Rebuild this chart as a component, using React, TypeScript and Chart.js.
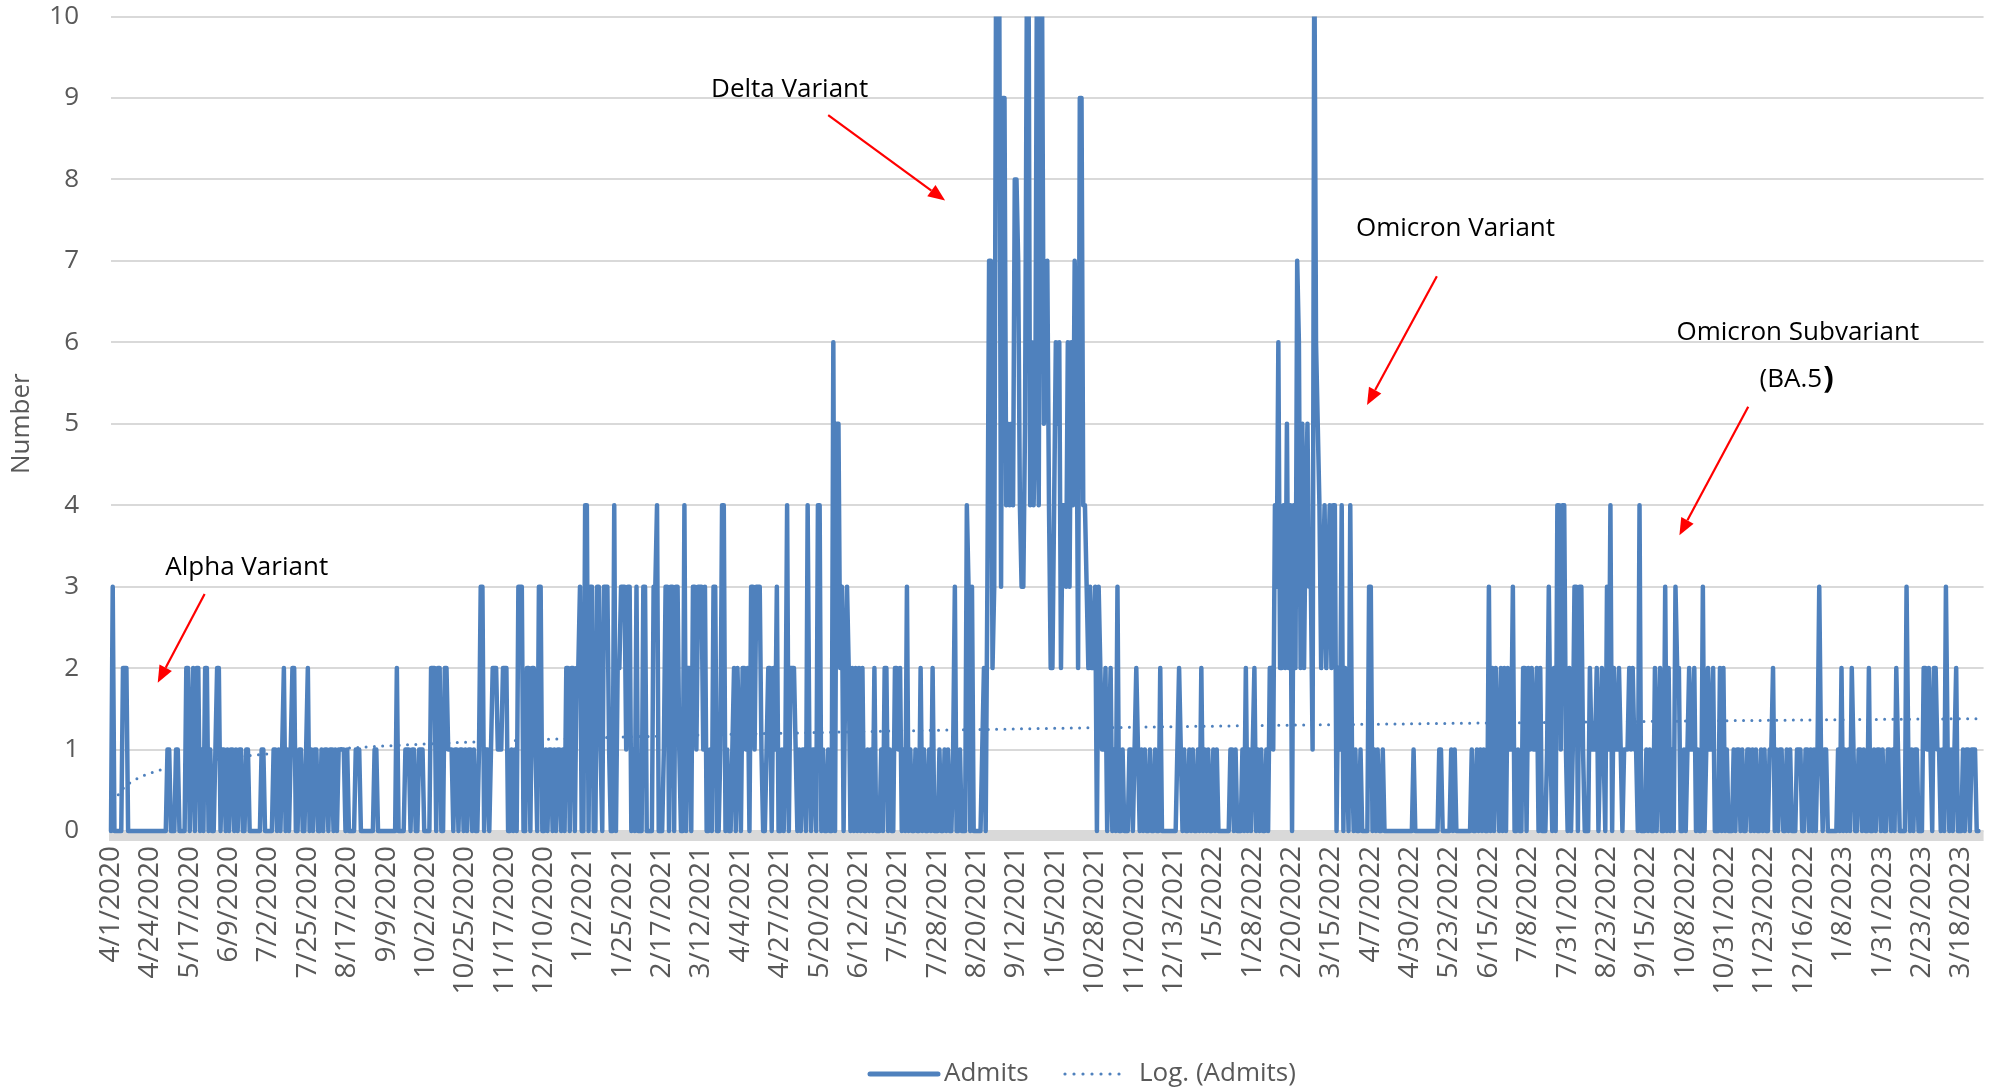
import React, { useEffect, useRef } from "react";
import { Chart, registerables } from "chart.js";

Chart.register(...registerables);

// ---------------- DATA ----------------
const SERIES_NAME = "Admits";
const TREND_NAME = "Log. (Admits)";
const AXIS_DAYS = 1095; // 4/1/2020 .. 3/31/2023 (date axis extent)
const TICK_STEP = 23; // one tick label every 23 days

const TICK_LABELS = [
  "4/1/2020", "4/24/2020", "5/17/2020", "6/9/2020", "7/2/2020", "7/25/2020",
  "8/17/2020", "9/9/2020", "10/2/2020", "10/25/2020", "11/17/2020", "12/10/2020",
  "1/2/2021", "1/25/2021", "2/17/2021", "3/12/2021", "4/4/2021", "4/27/2021",
  "5/20/2021", "6/12/2021", "7/5/2021", "7/28/2021", "8/20/2021", "9/12/2021",
  "10/5/2021", "10/28/2021", "11/20/2021", "12/13/2021", "1/5/2022", "1/28/2022",
  "2/20/2022", "3/15/2022", "4/7/2022", "4/30/2022", "5/23/2022", "6/15/2022",
  "7/8/2022", "7/31/2022", "8/23/2022", "9/15/2022", "10/8/2022", "10/31/2022",
  "11/23/2022", "12/16/2022", "1/8/2023", "1/31/2023", "2/23/2023", "3/18/2023",
];

// Daily admits, one string per 23-day tick interval (one character per day;
// A = 10, B = 11 – values above 10 are clipped by the axis as in the original).
const ADMITS_ROWS = [
  "03000002220000000000000",
  "00000000001100011000022",
  "01202201022010012201101",
  "01101011001100000001100",
  "00011010120101220011001",
  "20101100101101101011110",
  "10000111000000001100000",
  "00000020000111011001110",
  "00022202200221110110110",
  "10110100133011012221112",
  "22001010333002202210330",
  "01011010110102202202230",
  "04403300331033310040223",
  "33133010300033000033400",
  "01330330331004022033133",
  "31300103300144010012021",
  "02212033133310012202130",
  "01014022210101104101104",
  "40100100605523023202020",
  "20200101020001022010022",
  "12010301001002010010200",
  "01001010013001000430300",
  "00012037723ABA399454548",
  "874335AB4645B4BA5674224",
  "65624436364762994432322",
  "30321120120103001000110",
  "12101010010010020000000",
  "00121010010100102010100",
  "10100000001101000102010",
  "12010100102214362242524",
  "0427625245331B654234234",
  "24402140210410100100003",
  "30101001000000000000000",
  "00100000000000000110000",
  "01010000000001001010100",
  "30202102020211300100220",
  "21211202000131020441441",
  "02013303310002111201210",
  "31402112101112121104000",
  "10100201200302010322001",
  "01211201003012112000202",
  "01000101101001101010010",
  "10011201011001010001110",
  "01101010131011000000102",
  "01010210011010020010110",
  "10011010210000310101100",
  "02212102211010310101200",
  "01011011100",
];

const Y_MIN = 0;
const Y_MAX = 10;

// Annotations in data coordinates: [day index, value]
const ANNOTATIONS = [
  { text: "Delta Variant", at: [396.5, 9.1], from: [419, 8.79], to: [487.3, 7.74] },
  { text: "Omicron Variant", at: [785.5, 7.39], from: [774.6, 6.81], to: [733.8, 5.23] },
  { text: "Omicron Subvariant", at: [985.5, 6.12], from: [956.5, 5.21], to: [916.3, 3.63] },
  { text: "Alpha Variant", at: [79.3, 3.24], from: [54.7, 2.91], to: [27.3, 1.82] },
];
const SUB_LABEL = { text: "(BA.5", close: ")", at: [984.5, 5.54] };

// ---------------- STYLE ----------------
const BLUE = "#4F81BD";
const GRID = "#d9d9d9";
const TEXT = "#595959";
const FONT = "'Open Sans', sans-serif";

const admits = ADMITS_ROWS.join("").split("").map((c) => parseInt(c, 36));

// Excel-style logarithmic trendline: least squares fit y = a*ln(x) + b, x = 1..n
function logFit(ys: number[]) {
  const n = ys.length;
  let sx = 0, sy = 0, sxx = 0, sxy = 0;
  for (let i = 0; i < n; i++) {
    const lx = Math.log(i + 1);
    sx += lx; sy += ys[i]; sxx += lx * lx; sxy += lx * ys[i];
  }
  const a = (n * sxy - sx * sy) / (n * sxx - sx * sx);
  const b = (sy - a * sx) / n;
  return { a, b };
}
const fit = logFit(admits);
const trend = Array.from({ length: AXIS_DAYS }, (_, i) => fit.a * Math.log(i + 1) + fit.b);

const bandPlugin = {
  id: "axisBand",
  beforeDatasetsDraw(chart: any) {
    const { ctx, chartArea } = chart;
    ctx.save();
    ctx.fillStyle = GRID;
    ctx.fillRect(chartArea.left - 2, chartArea.bottom, chartArea.right - chartArea.left + 2, 10);
    ctx.restore();
  },
};

function drawArrow(ctx: CanvasRenderingContext2D, x1: number, y1: number, x2: number, y2: number) {
  const ang = Math.atan2(y2 - y1, x2 - x1);
  const head = 17, half = 7;
  const bx = x2 - head * Math.cos(ang), by = y2 - head * Math.sin(ang);
  ctx.save();
  ctx.strokeStyle = "#ff0000";
  ctx.fillStyle = "#ff0000";
  ctx.lineWidth = 2.2;
  ctx.beginPath();
  ctx.moveTo(x1, y1);
  ctx.lineTo(bx, by);
  ctx.stroke();
  ctx.beginPath();
  ctx.moveTo(x2, y2);
  ctx.lineTo(bx + half * Math.sin(ang), by - half * Math.cos(ang));
  ctx.lineTo(bx - half * Math.sin(ang), by + half * Math.cos(ang));
  ctx.closePath();
  ctx.fill();
  ctx.restore();
}

const annotationPlugin = {
  id: "variantNotes",
  afterDatasetsDraw(chart: any) {
    const { ctx } = chart;
    const xs = chart.scales.x, ys = chart.scales.y;
    const px = (p: number[]) => [xs.getPixelForValue(p[0]), ys.getPixelForValue(p[1])];
    ctx.save();
    ctx.textBaseline = "middle";
    for (const a of ANNOTATIONS) {
      const [tx, ty] = px(a.at);
      ctx.font = `26px ${FONT}`;
      ctx.textAlign = "center";
      ctx.fillStyle = "#000";
      ctx.fillText(a.text, tx, ty);
      const [fx, fy] = px(a.from);
      const [ex, ey] = px(a.to);
      drawArrow(ctx, fx, fy, ex, ey);
    }
    // "(BA.5)" with a larger closing parenthesis
    const [sx, sy] = px(SUB_LABEL.at);
    ctx.font = `26px ${FONT}`;
    const w1 = ctx.measureText(SUB_LABEL.text).width;
    ctx.font = `bold 31px ${FONT}`;
    const w2 = ctx.measureText(SUB_LABEL.close).width;
    const left = sx - (w1 + w2) / 2;
    ctx.textAlign = "left";
    ctx.fillStyle = "#000";
    ctx.font = `26px ${FONT}`;
    ctx.fillText(SUB_LABEL.text, left, sy);
    ctx.font = `bold 31px ${FONT}`;
    ctx.fillText(SUB_LABEL.close, left + w1 + 1, sy - 1);
    ctx.restore();
  },
};

const legendPlugin = {
  id: "bottomLegend",
  afterDraw(chart: any) {
    const { ctx } = chart;
    const y = 1074;
    ctx.save();
    ctx.strokeStyle = BLUE;
    ctx.lineCap = "round";
    ctx.lineWidth = 5;
    ctx.beginPath();
    ctx.moveTo(870, y);
    ctx.lineTo(938, y);
    ctx.stroke();
    ctx.lineWidth = 3.2;
    ctx.setLineDash([0, 9]);
    ctx.beginPath();
    ctx.moveTo(1065, y);
    ctx.lineTo(1128, y);
    ctx.stroke();
    ctx.setLineDash([]);
    ctx.fillStyle = TEXT;
    ctx.font = `26px ${FONT}`;
    ctx.textAlign = "left";
    ctx.textBaseline = "middle";
    ctx.fillText(SERIES_NAME, 944, y);
    ctx.fillText(TREND_NAME, 1139, y);
    ctx.restore();
  },
};

export default function App() {
  const ref = useRef<HTMLCanvasElement | null>(null);

  useEffect(() => {
    if (!ref.current) return;
    Chart.defaults.font.family = FONT;
    const chart = new Chart(ref.current, {
      type: "line",
      data: {
        datasets: [
          {
            label: SERIES_NAME,
            data: admits.map((y, i) => ({ x: i, y })),
            borderColor: BLUE,
            backgroundColor: BLUE,
            borderWidth: 4.5,
            borderJoinStyle: "round",
            borderCapStyle: "round",
            pointRadius: 0,
            tension: 0,
            fill: false,
            clip: { left: 4, top: 0, right: 4, bottom: 4 },
          } as any,
          {
            label: TREND_NAME,
            data: trend.map((y, i) => ({ x: i, y })),
            borderColor: BLUE,
            borderWidth: 3,
            borderDash: [0, 8.3],
            borderCapStyle: "round",
            pointRadius: 0,
            tension: 0,
            fill: false,
          } as any,
        ],
      },
      options: {
        animation: false,
        responsive: true,
        maintainAspectRatio: false,
        parsing: false,
        events: [],
        layout: { padding: { top: 16.5, right: 7, left: 0, bottom: 0 } },
        plugins: { legend: { display: false }, tooltip: { enabled: false } },
        scales: {
          x: {
            type: "linear",
            min: 0,
            max: AXIS_DAYS - 1,
            grid: {
              display: true,
              drawOnChartArea: false,
              drawTicks: true,
              tickLength: 15,
              tickColor: "rgba(0,0,0,0)",
            },
            border: { display: false },
            afterBuildTicks: (scale: any) => {
              scale.ticks = TICK_LABELS.map((_, i) => ({ value: i * TICK_STEP }));
            },
            afterFit: (scale: any) => {
              scale.height = 259;
            },
            ticks: {
              autoSkip: false,
              minRotation: 90,
              maxRotation: 90,
              padding: 0,
              color: TEXT,
              font: { size: 28 },
              callback: (v: any) => TICK_LABELS[Math.round(Number(v) / TICK_STEP)] ?? "",
            },
          },
          y: {
            min: Y_MIN,
            max: Y_MAX,
            grid: { color: GRID, lineWidth: 2, drawTicks: true, tickLength: 32, tickColor: "rgba(0,0,0,0)" },
            border: { display: false },
            afterFit: (scale: any) => {
              scale.width = 111;
            },
            ticks: { stepSize: 1, padding: 0, color: TEXT, font: { size: 26 } },
            title: {
              display: true,
              text: "Number",
              color: TEXT,
              font: { size: 26 },
              padding: { top: 6, bottom: 0 },
            },
          },
        },
      } as any,
      plugins: [bandPlugin, annotationPlugin, legendPlugin],
    });
    return () => chart.destroy();
  }, []);

  return (
    <div style={{ position: "fixed", left: 0, top: 0, width: 1995, height: 1090, background: "#fff" }}>
      <canvas ref={ref} />
    </div>
  );
}
